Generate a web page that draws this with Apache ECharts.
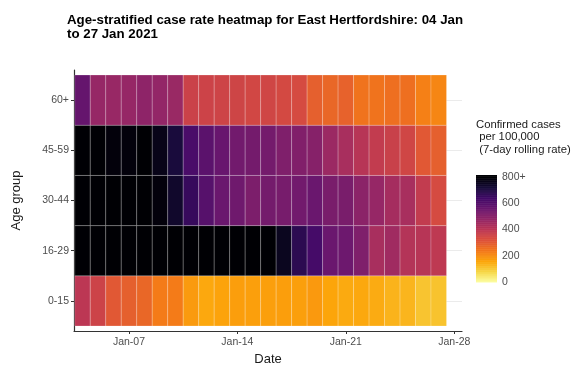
<!DOCTYPE html>
<html>
<head>
<meta charset="utf-8">
<script src="https://cdn.jsdelivr.net/npm/echarts@6/dist/echarts.min.js"></script>
<style>
html,body{margin:0;padding:0;background:#fff;}
#chart{width:581px;height:372px;}
</style>
</head>
<body>
<div id="chart"></div>
<script>
const dates = ['2021-01-04','2021-01-05','2021-01-06','2021-01-07','2021-01-08','2021-01-09','2021-01-10','2021-01-11',
  '2021-01-12','2021-01-13','2021-01-14','2021-01-15','2021-01-16','2021-01-17','2021-01-18','2021-01-19',
  '2021-01-20','2021-01-21','2021-01-22','2021-01-23','2021-01-24','2021-01-25','2021-01-26','2021-01-27'];
const ageGroups = ['0-15','16-29','30-44','45-59','60+'];
const rate_0_15  = [400,362,305,290,275,235,235,180,155,163,172,170,170,172,170,182,160,152,155,150,138,135,110,112];
const rate_16_29 = [900,900,890,880,880,870,860,850,850,840,830,800,810,760,680,635,560,555,520,440,455,415,410,395];
const rate_30_44 = [880,870,860,850,840,790,740,660,600,560,550,525,540,535,545,560,530,530,495,475,445,440,385,340];
const rate_45_59 = [860,850,790,790,850,770,715,625,590,565,545,540,540,520,515,505,465,440,410,385,370,355,305,290];
const rate_60p   = [570,475,470,475,490,480,468,365,362,360,358,350,355,345,340,290,275,285,250,250,258,258,225,215];
const xTickDates = ['2021-01-07','2021-01-14','2021-01-21','2021-01-28'];
const xTickLabels = ['Jan-07','Jan-14','Jan-21','Jan-28'];
const legendTicks = [0,200,400,600,800];
const legendTickLabels = ['0','200','400','600','800+'];
const titleText = 'Age-stratified case rate heatmap for East Hertfordshire: 04 Jan\nto 27 Jan 2021';
const legendTitle = 'Confirmed cases\n per 100,000\n (7-day rolling rate)';

const rowsByGroup = [rate_0_15, rate_16_29, rate_30_44, rate_45_59, rate_60p];
const CAP = 800;
const dayNum = d => (Date.parse(d) - Date.parse('2021-01-01')) / 86400000 + 1;

const heatData = [];
rowsByGroup.forEach((vals, gi) => {
  vals.forEach((v, di) => heatData.push([dayNum(dates[di]), gi + 1, Math.min(v, CAP)]));
});
const legendStep = 5;
const legendData = [];
for (let v = 0; v < 815; v += legendStep) legendData.push([0.5, v, Math.min(v + legendStep / 2, CAP)]);

const xTickVals = xTickDates.map(dayNum);
const yTickVals = ageGroups.map((g, i) => i + 1);
const inferno = ['#fcffa4','#f6d746','#fca50a','#f37819','#dd513a','#bc3754','#932667','#6a176e','#420a68','#160b39','#000004'];
const FONT = 'Liberation Sans, Arial, sans-serif';

const chart = echarts.init(document.getElementById('chart'), null, {renderer: 'canvas'});
chart.setOption({
  animation: false,
  backgroundColor: '#fff',
  title: {
    text: titleText, left: 67, top: 13, padding: 0,
    textStyle: {fontFamily: FONT, fontSize: 13.3, fontWeight: 'bold', color: '#000', lineHeight: 14.5}
  },
  graphic: [{
    type: 'text', left: 476, top: 118,
    style: {text: legendTitle, font: '11.3px ' + FONT, fill: '#1a1a1a', lineHeight: 12.8}
  }],
  grid: [
    {left: 74, right: 119, top: 70, bottom: 41},
    {left: 476, top: 175, width: 21, height: 107}
  ],
  xAxis: [{
    type: 'value', gridIndex: 0, min: dayNum('2021-01-03') + 0.45, max: dayNum('2021-01-28') + 0.5,
    name: 'Date', nameLocation: 'middle', nameGap: 22,
    nameTextStyle: {fontFamily: FONT, fontSize: 13, color: '#1a1a1a'},
    axisLine: {show: true, lineStyle: {color: '#333', width: 1.2}},
    axisTick: {show: true, length: 3, lineStyle: {color: '#333'}, customValues: xTickVals},
    axisLabel: {customValues: xTickVals, margin: 6, fontFamily: FONT, fontSize: 10.5, color: '#4d4d4d',
      formatter: v => { const i = xTickVals.indexOf(v); return i >= 0 ? xTickLabels[i] : ''; }},
    splitLine: {show: false}
  }, {
    type: 'value', gridIndex: 1, min: 0, max: 1, show: false
  }],
  yAxis: [{
    type: 'value', gridIndex: 0, min: 0.4, max: 5.6,
    name: 'Age group', nameLocation: 'middle', nameGap: 51, nameRotate: 90,
    nameTextStyle: {fontFamily: FONT, fontSize: 13, color: '#1a1a1a'},
    axisLine: {show: true, lineStyle: {color: '#333', width: 1.2}},
    axisTick: {show: true, length: 3, lineStyle: {color: '#333'}, customValues: yTickVals},
    axisLabel: {customValues: yTickVals, margin: 5, fontFamily: FONT, fontSize: 10.5, color: '#4d4d4d',
      formatter: v => ageGroups[Math.round(v) - 1] || ''},
    splitLine: {show: true, lineStyle: {color: '#ebebeb', width: 1}}
  }, {
    type: 'value', gridIndex: 1, min: 0, max: 815, position: 'right',
    axisLine: {show: false},
    axisTick: {show: true, inside: true, length: 4, lineStyle: {color: 'rgba(255,255,255,0.8)'}, customValues: [200,400,600]},
    axisLabel: {customValues: legendTicks, margin: 5, fontFamily: FONT, fontSize: 10.5, color: '#4d4d4d',
      formatter: v => { const i = legendTicks.indexOf(v); return i >= 0 ? legendTickLabels[i] : ''; }},
    splitLine: {show: false}
  }],
  visualMap: {
    type: 'continuous', show: false, min: 0, max: CAP, dimension: 2, seriesIndex: [0, 1],
    inRange: {color: inferno}
  },
  series: [{
    type: 'custom', xAxisIndex: 0, yAxisIndex: 0, z: 3,
    encode: {x: 0, y: 1},
    data: heatData,
    renderItem: (params, api) => {
      const x = api.value(0), y = api.value(1);
      const p0 = api.coord([x - 0.5, y + 0.5]);
      const p1 = api.coord([x + 0.5, y - 0.5]);
      return {type: 'rect', shape: {x: p0[0], y: p0[1], width: p1[0] - p0[0], height: p1[1] - p0[1]},
        style: {fill: api.visual('color'), stroke: 'rgba(255,255,255,0.3)', lineWidth: 0.7}};
    }
  }, {
    type: 'custom', xAxisIndex: 1, yAxisIndex: 1, z: 3,
    encode: {x: 0, y: 1},
    data: legendData,
    renderItem: (params, api) => {
      const v = api.value(1);
      const p0 = api.coord([0, v + legendStep]);
      const p1 = api.coord([1, v]);
      return {type: 'rect', shape: {x: p0[0], y: p0[1], width: p1[0] - p0[0], height: p1[1] - p0[1] + 0.5},
        style: {fill: api.visual('color')}};
    }
  }]
});
</script>
</body>
</html>
